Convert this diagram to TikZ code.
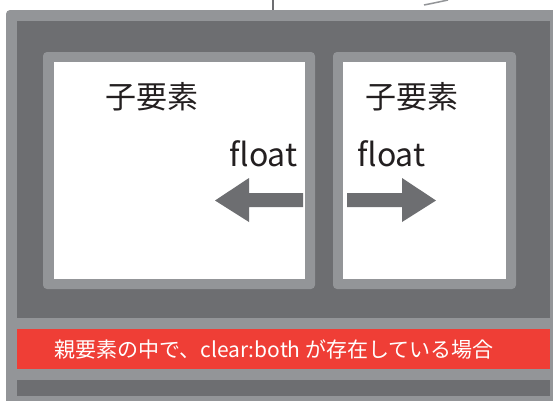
\documentclass[tikz,border=0pt]{standalone}
\usepackage{fontspec}
\setmainfont{Noto Sans CJK JP}
\usetikzlibrary{shapes.arrows}
\definecolor{darkg}{HTML}{6D6E71}
\definecolor{lightg}{HTML}{939598}
\definecolor{redbar}{HTML}{EF3E36}
\definecolor{txt}{HTML}{231F20}
\begin{document}
\begin{tikzpicture}[x=1pt,y=-1pt,
  frame/.style={fill=lightg,draw=none,rounded corners=4pt},
  inner/.style={fill=white,draw=none},
  lbl/.style={text=txt,font=\fontsize{31}{31}\selectfont,inner sep=0pt},
  fl/.style={text=txt,font=\fontsize{32}{32}\selectfont,inner sep=0pt,anchor=base},
  arr/.style={fill=darkg,draw=none}]
\useasboundingbox (0,0) rectangle (553,400);
\fill[white] (0,0) rectangle (553,400);
% outer frame
\fill[lightg,rounded corners=4pt] (6,10) rectangle (570,420);
\fill[darkg] (17,21) rectangle (550,318);
\fill[redbar] (17,329) rectangle (550,369);
\fill[darkg] (17,380) rectangle (550,396);
% children
\fill[lightg,rounded corners=4pt] (43,52) rectangle (315,289);
\fill[white] (54,62) rectangle (305,279);
\fill[lightg,rounded corners=4pt] (333,52) rectangle (516,289);
\fill[white] (343,62) rectangle (506,279);
% labels
\node[lbl] (c1) at (152,96.5) {子要素};
\node[lbl] (c2) at (412,96.5) {子要素};
\node[fl] (f1) at (263.5,166) {float};
\node[fl] (f2) at (391.5,166) {float};
\node[text=white,font=\fontsize{21}{21}\selectfont,inner sep=0pt] (bar) at (274,349.5) {親要素の中で、clear:both が存在している場合};
% arrows
\fill[arr] (303,193) -- (249,193) -- (249,178) -- (215,200.5) -- (249,222) -- (249,207) -- (303,207) -- cycle;
\fill[arr] (347,193) -- (402,193) -- (402,178) -- (436,200.5) -- (402,222) -- (402,207) -- (347,207) -- cycle;
% top connector fragments
\coordinate (t1) at (273,0);
\coordinate (t2) at (273,10);
\draw[darkg,line width=1.3pt] (t1) -- (t2);
\coordinate (r1) at (424,5);
\coordinate (r2) at (448,0);
\draw[lightg,line width=1.5pt] (r1) .. controls (434,3) .. (r2);
\end{tikzpicture}
\end{document}
